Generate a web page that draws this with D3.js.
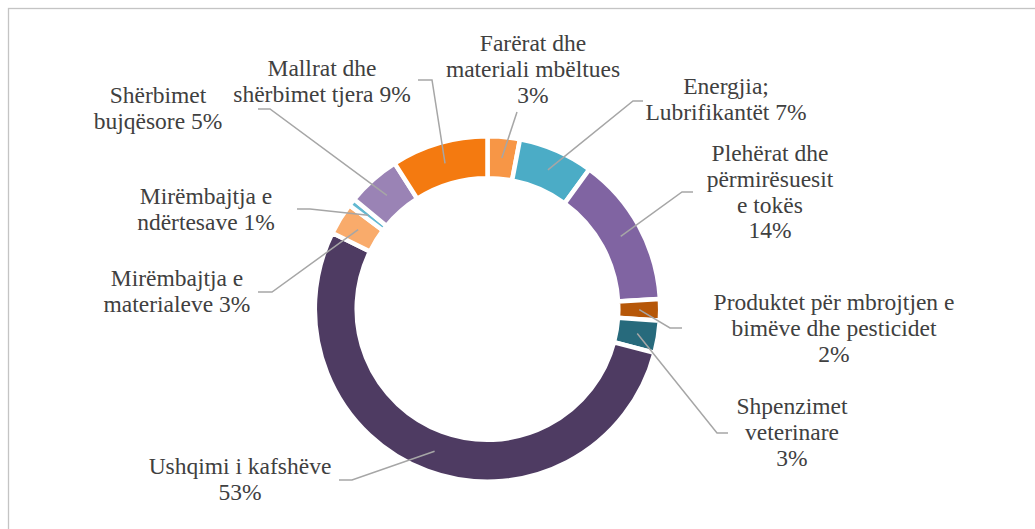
<!DOCTYPE html>
<html>
<head>
<meta charset="utf-8">
<script src="https://cdn.jsdelivr.net/npm/d3@7"></script>
<style>
  html, body { margin: 0; padding: 0; background: #ffffff; }
  svg { display: block; }
</style>
</head>
<body>
<svg id="chart" width="1035" height="529"></svg>
<script>
// ---- data ----
const categories = [
  "Farërat dhe materiali mbëltues",
  "Energjia; Lubrifikantët",
  "Plehërat dhe përmirësuesit e tokës",
  "Produktet për mbrojtjen e bimëve dhe pesticidet",
  "Shpenzimet veterinare",
  "Ushqimi i kafshëve",
  "Mirëmbajtja e materialeve",
  "Mirëmbajtja e ndërtesave",
  "Shërbimet bujqësore",
  "Mallrat dhe shërbimet tjera"
];
const values = [3, 7, 14, 2, 3, 53, 3, 0.7, 5, 9];
const percentLabels = ["3%", "7%", "14%", "2%", "3%", "53%", "3%", "1%", "5%", "9%"];
const labelLines = [
  ["Farërat dhe", "materiali mbëltues", "3%"],
  ["Energjia;", "Lubrifikantët 7%"],
  ["Plehërat dhe", "përmirësuesit", "e tokës", "14%"],
  ["Produktet për mbrojtjen e", "bimëve dhe pesticidet", "2%"],
  ["Shpenzimet", "veterinare", "3%"],
  ["Ushqimi i kafshëve", "53%"],
  ["Mirëmbajtja e", "materialeve 3%"],
  ["Mirëmbajtja e", "ndërtesave 1%"],
  ["Shërbimet", "bujqësore 5%"],
  ["Mallrat dhe", "shërbimet tjera 9%"]
];
const colors = ["#F79646", "#4BACC6", "#8064A2", "#B65708", "#276A7C",
                "#4E3B62", "#F9AB6B", "#62B9D1", "#9A83B5", "#F47A10"];

// ---- layout (label placement: centre x, first baseline y, leader elbow & end) ----
const labelLayout = [
  { x: 533, y: 51,  pts: [[517, 112]] },
  { x: 726, y: 94,  pts: [[633, 101], [643, 101]] },
  { x: 770, y: 161, pts: [[682, 192], [693, 192]] },
  { x: 834, y: 310, pts: [[670, 328], [682, 328]] },
  { x: 792, y: 414, pts: [[717, 433], [728, 433]] },
  { x: 240, y: 474, pts: [[352, 480], [339, 480]] },
  { x: 177, y: 286, pts: [[272, 292], [258, 292]] },
  { x: 206, y: 204, pts: [[310, 209], [297, 209]] },
  { x: 158, y: 103, pts: [[270, 109], [258, 109]] },
  { x: 322, y: 76,  pts: [[432, 80], [418, 80]] }
];
const lineHeight = 25.8;

const svg = d3.select("#chart");
const cx = 487.5, cy = 309;
const outerR = 172.7, innerR = 130.8;

// frame
svg.append("rect")
  .attr("x", 8.5).attr("y", 8.5)
  .attr("width", 1100).attr("height", 600)
  .attr("fill", "#ffffff")
  .attr("stroke", "#C4C4C4").attr("stroke-width", 1.3);

const pie = d3.pie().sort(null).value(d => d).startAngle(0).endAngle(2 * Math.PI);
const arcs = pie(values);
const arc = d3.arc().innerRadius(innerR).outerRadius(outerR);

const g = svg.append("g").attr("transform", `translate(${cx},${cy})`);
g.selectAll("path.slice")
  .data(arcs)
  .join("path")
  .attr("class", "slice")
  .attr("d", arc)
  .attr("fill", (d, i) => colors[i])
  .attr("stroke", "#ffffff")
  .attr("stroke-width", 4.5)
  .attr("stroke-linejoin", "miter");

// leader lines
const line = d3.line();
svg.append("g").selectAll("path.leader")
  .data(arcs)
  .join("path")
  .attr("class", "leader")
  .attr("d", (d, i) => {
    const c = arc.centroid(d);
    const start = [cx + c[0], cy + c[1]];
    return line([start, ...labelLayout[i].pts]);
  })
  .attr("fill", "none")
  .attr("stroke", "#A6A6A6")
  .attr("stroke-width", 1.5);

// labels
const lg = svg.append("g");
labelLines.forEach((lines, i) => {
  const L = labelLayout[i];
  const t = lg.append("text")
    .style("font-family", "\"Liberation Serif\"")
    .style("font-size", "23.5px")
    .style("fill", "#404040")
    .attr("text-anchor", "middle");
  lines.forEach((s, j) => {
    t.append("tspan").attr("x", L.x).attr("y", L.y + j * lineHeight).text(s);
  });
});
</script>
</body>
</html>
